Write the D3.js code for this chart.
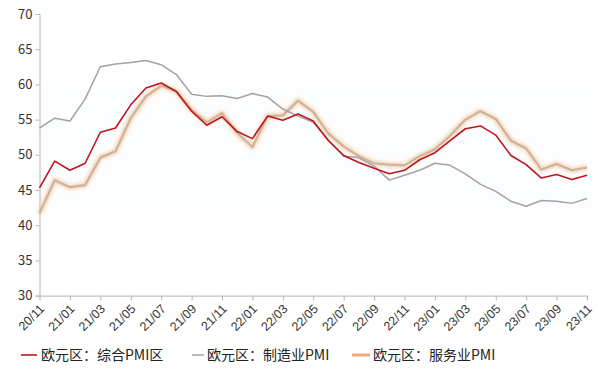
<!DOCTYPE html>
<html><head><meta charset="utf-8">
<script src="https://cdn.jsdelivr.net/npm/d3@7"></script>
<style>
html,body{margin:0;padding:0;background:#fff;}
svg{display:block;font-family:"Noto Sans CJK SC","Noto Sans",sans-serif;}
</style></head>
<body><svg id="c" width="598" height="372"></svg>
<script>
const months = ["20/11","20/12","21/01","21/02","21/03","21/04","21/05","21/06","21/07","21/08","21/09","21/10","21/11","21/12",
"22/01","22/02","22/03","22/04","22/05","22/06","22/07","22/08","22/09","22/10","22/11","22/12",
"23/01","23/02","23/03","23/04","23/05","23/06","23/07","23/08","23/09","23/10","23/11"];
const composite = [45.3,49.1,47.8,48.8,53.2,53.8,57.1,59.5,60.2,59.0,56.2,54.2,55.4,53.3,52.3,55.5,54.9,55.8,54.8,52.0,49.9,48.9,48.1,47.3,47.8,49.3,50.3,52.0,53.7,54.1,52.8,49.9,48.6,46.7,47.2,46.5,47.1];
const manufacturing = [53.8,55.2,54.8,57.9,62.5,62.9,63.1,63.4,62.8,61.4,58.6,58.3,58.4,58.0,58.7,58.2,56.5,55.5,54.6,52.1,49.8,49.6,48.4,46.4,47.1,47.8,48.8,48.5,47.3,45.8,44.8,43.4,42.7,43.5,43.4,43.1,43.8];
const services = [41.7,46.4,45.4,45.7,49.6,50.5,55.2,58.3,59.8,59.0,56.4,54.6,55.9,53.1,51.1,55.5,55.6,57.7,56.1,53.0,51.2,49.8,48.8,48.6,48.5,49.8,50.8,52.7,55.0,56.2,55.1,52.0,50.9,47.9,48.7,47.8,48.2];
const yTicks = [30,35,40,45,50,55,60,65,70];
const seriesNames = ["欧元区：综合PMI区","欧元区：制造业PMI","欧元区：服务业PMI"];

const svg = d3.select("#c");
const x = d3.scalePoint().domain(months).range([39.5, 587]);
const y = d3.scaleLinear().domain([30,70]).range([295.6, 14]);
const axisColor = "#b4b4b4";

const defs = svg.append("defs");
const f = defs.append("filter").attr("id","glow").attr("x","-5%").attr("y","-20%").attr("width","110%").attr("height","140%");
f.append("feGaussianBlur").attr("stdDeviation",1.6);

// faint tinted band (glow bounding area)
const sMax = d3.max(services), sMin = d3.min(services);
svg.append("rect").attr("x", x(months[0])+1).attr("width", x(months[months.length-1]) - x(months[0]) + 4)
  .attr("y", y(sMax)+2).attr("height", y(sMin)-y(sMax)).attr("fill","#fcfdfe");

// y axis
const yAxis = svg.append("g").attr("transform","translate(39.5,0)")
  .call(d3.axisLeft(y).tickValues(yTicks).tickSize(4).tickPadding(3).tickFormat(d3.format("d")));
yAxis.select(".domain").attr("stroke",axisColor);
yAxis.selectAll(".tick line").attr("stroke",axisColor);
yAxis.selectAll("text").attr("font-size",13).attr("fill","#333").attr("font-family","'Noto Sans CJK SC',sans-serif");

// x axis
const xTickVals = months.filter((d,i)=>i%2===0);
const xAxis = svg.append("g").attr("transform","translate(0,295.6)")
  .call(d3.axisBottom(x).tickValues(xTickVals).tickSize(5).tickSizeOuter(0));
xAxis.select(".domain").attr("stroke",axisColor);
xAxis.selectAll(".tick line").attr("stroke",axisColor);
xAxis.selectAll("text").attr("font-size",12.5).attr("fill","#333")
  .attr("text-anchor","end").attr("dy","0.35em")
  .attr("transform","translate(2,11) rotate(-45)").attr("y",0).attr("x",0);

const line = d3.line().x((d,i)=>x(months[i])).y(d=>y(d));

// services (glowing)
svg.append("path").datum(services).attr("d",line).attr("fill","none")
  .attr("stroke","#f2c08e").attr("stroke-width",6).attr("opacity",0.55).attr("filter","url(#glow)")
  .attr("stroke-linejoin","round");
svg.append("path").datum(services).attr("d",line).attr("fill","none")
  .attr("stroke","#cdb29c").attr("stroke-width",2.2).attr("stroke-linejoin","round");

// manufacturing
svg.append("path").datum(manufacturing).attr("d",line).attr("fill","none")
  .attr("stroke","#a3a3a3").attr("stroke-width",1.5).attr("stroke-linejoin","round");
// composite
svg.append("path").datum(composite).attr("d",line).attr("fill","none")
  .attr("stroke","#c0141c").attr("stroke-width",1.6).attr("stroke-linejoin","round");

// legend
const leg = [
  {x1:21,x2:37,tx:41,color:"#c0141c",w:1.6},
  {x1:192,x2:204,tx:207,color:"#a3a3a3",w:1.5},
  {x1:352,x2:370,tx:373,color:"#eeaa78",w:3}
];
leg.forEach((l,i)=>{
  svg.append("line").attr("x1",l.x1).attr("x2",l.x2).attr("y1",355).attr("y2",355)
    .attr("stroke",l.color).attr("stroke-width",l.w);
  svg.append("text").attr("x",l.tx).attr("y",355).attr("dy","0.35em")
    .attr("font-size",14).attr("fill","#222").text(seriesNames[i]);
});
</script></body></html>
